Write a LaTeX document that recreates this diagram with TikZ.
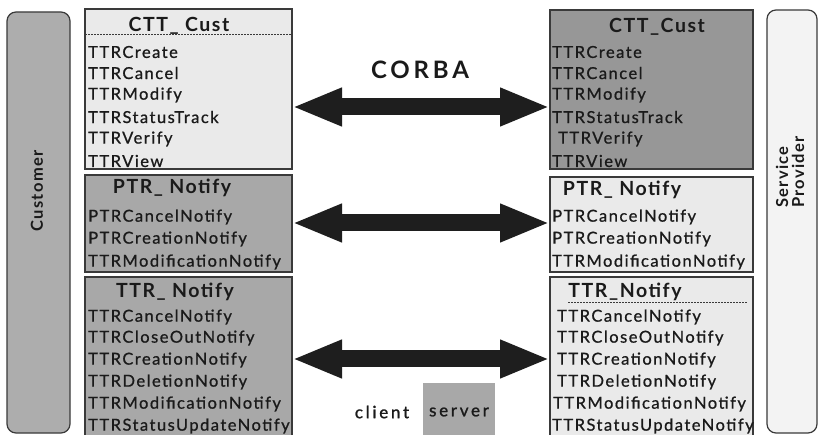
\documentclass[tikz,border=0pt]{standalone}
\usepackage{fontspec}
\setmainfont{Lato}
\newfontfamily\itemfont[LetterSpace=9, FakeBold=0.8]{Lato}
\newfontfamily\legendfont[LetterSpace=16, FakeBold=1.2]{Lato}
\newfontfamily\headfont[LetterSpace=8]{Lato}
\newfontfamily\bannerfont[LetterSpace=16]{Lato}
\usetikzlibrary{arrows.meta}

\definecolor{edge}{HTML}{3A3A3A}
\definecolor{ink}{HTML}{1A1A1A}
\definecolor{lightfill}{HTML}{EAEAEA}
\definecolor{darkfill}{HTML}{A8A8A8}
\definecolor{darkerfill}{HTML}{979797}
\definecolor{custfill}{HTML}{ADADAD}
\definecolor{provfill}{HTML}{F3F3F3}
\definecolor{pipe}{HTML}{1E1E1E}

\tikzset{
  box/.style={draw=edge, line width=1.3pt, inner sep=0pt, outer sep=0pt, anchor=north west},
  lightbox/.style={box, fill=lightfill},
  darkbox/.style={box, fill=darkfill},
  item/.style={anchor=west, inner sep=0pt, text=ink, font=\itemfont\fontsize{16.5}{16.5}\selectfont},
  head/.style={inner sep=0pt, text=ink, font=\headfont\bfseries\fontsize{19.5}{19.5}\selectfont},
  legendtext/.style={inner sep=0pt, text=ink, font=\legendfont\fontsize{17}{17}\selectfont},
  sidebar/.style={draw=edge, line width=1.2pt, rounded corners=9pt, inner sep=0pt, outer sep=0pt, anchor=north west},
  sidelabel/.style={rotate=90, inner sep=0pt, text=ink, align=left, font=\headfont\bfseries\fontsize{16.5}{16}\selectfont},
  corba/.style={draw=pipe, line width=17pt,
    {Triangle[length=50pt,width=35pt]}-{Triangle[length=50pt,width=35pt]}},
  rule/.style={draw=edge, line width=1pt, dash pattern=on 2pt off 1pt}
}

\begin{document}
\begin{tikzpicture}[x=1pt,y=-1pt]
\useasboundingbox (0,0) rectangle (819,435);
\clip (0,0) rectangle (819,435);
\fill[white] (0,0) rectangle (819,435);

% side bars
\node[sidebar, fill=custfill, minimum width=63pt, minimum height=421pt] (cust) at (7,12) {};
\node[sidelabel] (custlbl) at (37,191) {Customer};
\node[sidebar, fill=provfill, minimum width=50pt, minimum height=423pt] (prov) at (767,10) {};
\node[sidelabel] (provlbl) at (790,172) {Service\\Provider};

% client side interfaces
\node[lightbox, minimum width=207pt, minimum height=160pt] (lctt) at (85,9) {};
\node[head] (lcttT) at (179,26) {CTT\_ Cust};
\draw[rule] (lctt.west |- 0,35) -- (lctt.east |- 0,35);
\foreach \t/\y [count=\i] in {TTRCreate/52, TTRCancel/73, TTRModify/95, TTRStatusTrack/117, TTRVerify/139, TTRView/161}
  \node[item] (lctt\i) at (88,\y) {\t};

\node[darkbox, minimum width=207pt, minimum height=97pt] (lptr) at (85,175) {};
\node[head] (lptrT) at (172,188) {PTR\_ Notify};
\foreach \t/\y [count=\i] in {PTRCancelNotify/217, PTRCreationNotify/239, TTRModificationNotify/262}
  \node[item] (lptr\i) at (88,\y) {\t};

\node[darkbox, minimum width=207pt, minimum height=170pt] (lttr) at (85,277) {};
\node[head] (lttrT) at (175,292) {TTR\_ Notify};
\foreach \t/\y [count=\i] in {TTRCancelNotify/317, TTRCloseOutNotify/338, TTRCreationNotify/360, TTRDeletionNotify/382, TTRModificationNotify/404, TTRStatusUpdateNotify/426}
  \node[item] (lttr\i) at (88,\y) {\t};

% server side interfaces
\node[box, fill=darkerfill, minimum width=203pt, minimum height=159pt] (rctt) at (550,10) {};
\node[head] (rcttT) at (657,27) {CTT\_Cust};
\foreach \t/\x/\y [count=\i] in {TTRCreate/552/52, TTRCancel/552/73, TTRModify/552/95, TTRStatusTrack/552/117, TTRVerify/558/139, TTRView/552/161}
  \node[item] (rctt\i) at (\x,\y) {\t};

\node[lightbox, minimum width=203pt, minimum height=95pt] (rptr) at (550,177) {};
\node[head] (rptrT) at (622,190) {PTR\_ Notify};
\foreach \t/\y [count=\i] in {PTRCancelNotify/217, PTRCreationNotify/239, TTRModificationNotify/262}
  \node[item] (rptr\i) at (552,\y) {\t};

\node[lightbox, minimum width=203pt, minimum height=170pt] (rttr) at (550,277) {};
\node[head] (rttrT) at (625,292) {TTR\_Notify};
\coordinate (rrule1) at (568,303);
\coordinate (rrule2) at (747,303);
\draw[rule] (rrule1) -- (rrule2);
\foreach \t/\x/\y [count=\i] in {TTRCancelNotify/557/317, TTRCloseOutNotify/557/338, TTRCreationNotify/557/360, TTRDeletionNotify/557/382, TTRModificationNotify/553/404, TTRStatusUpdateNotify/552/426}
  \node[item] (rttr\i) at (\x,\y) {\t};

% CORBA links
\node[inner sep=0pt, text=ink, font=\bannerfont\bfseries\fontsize{24}{24}\selectfont] (banner) at (420,70) {CORBA};
\draw[corba] (lctt.east |- 0,107) -- (rctt.west |- 0,107);
\draw[corba] (lptr.east |- 0,223) -- (rptr.west |- 0,223);
\draw[corba] (lttr.east |- 0,359) -- (rttr.west |- 0,359);

% legend
\node[legendtext] (client) at (382,412) {client};
\node[box, draw=none, fill=darkfill, minimum width=72pt, minimum height=60pt] (srvbox) at (423,383) {};
\node[legendtext] (server) at (459,412) {server};
\end{tikzpicture}
\end{document}
